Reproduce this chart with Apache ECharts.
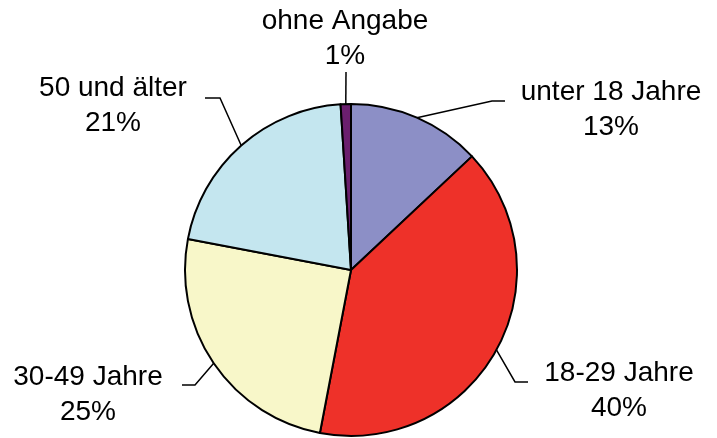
<!DOCTYPE html>
<html>
<head>
<meta charset="utf-8">
<script src="https://cdn.jsdelivr.net/npm/echarts@6/dist/echarts.min.js"></script>
<style>
  html, body { margin: 0; padding: 0; background: #fff; }
  #chart { width: 717px; height: 438px; }
</style>
</head>
<body>
<div id="chart"></div>
<script>
// Altersgruppen und Anteile (%)
const categories = ['unter 18 Jahre', '18-29 Jahre', '30-49 Jahre', '50 und älter', 'ohne Angabe']
const shares = [13, 40, 25, 21, 1]
const colors = ['#8c8fc6', '#ee3129', '#f8f7c9', '#c4e6ef', '#6b1f6e']

// label block centre + leader elbow/end, per slice
const labelSpots = [
  { x: 611, y: 110, elbow: [492, 101], end: [505, 101] },
  { x: 619, y: 391, elbow: [515, 382], end: [528, 382] },
  { x: 88, y: 395, elbow: [195, 385], end: [182, 385] },
  { x: 113, y: 106, elbow: [220, 98], end: [205, 98] },
  { x: 345, y: 39, elbow: [346, 72], end: [346, 72] }
]

const chart = echarts.init(document.getElementById('chart'))

const option = {
  backgroundColor: '#fff',
  animation: false,
  series: [
    {
      type: 'pie',
      center: [351, 270],
      radius: 166,
      startAngle: 90,
      clockwise: true,
      itemStyle: {
        borderColor: '#000',
        borderWidth: 2
      },
      label: {
        show: true,
        position: 'outside',
        formatter: (p) => `{t|${p.name}}\n{t|${p.value}%}`,
        rich: {
          t: {
            align: 'center',
            fontSize: 28,
            lineHeight: 35,
            color: '#000',
            fontFamily: '"Liberation Sans", Arial, sans-serif'
          }
        }
      },
      labelLine: {
        show: true,
        lineStyle: { color: '#000', width: 1.5 }
      },
      labelLayout: (params) => {
        const s = labelSpots[params.dataIndex]
        const start = params.labelLinePoints ? params.labelLinePoints[0] : s.elbow
        return {
          x: s.x,
          y: s.y,
          align: 'center',
          verticalAlign: 'middle',
          labelLinePoints: [start, s.elbow, s.end]
        }
      },
      emphasis: { disabled: true },
      data: categories.map((name, i) => ({
        name,
        value: shares[i],
        itemStyle: { color: colors[i] }
      }))
    }
  ]
}

chart.setOption(option)
</script>
</body>
</html>
